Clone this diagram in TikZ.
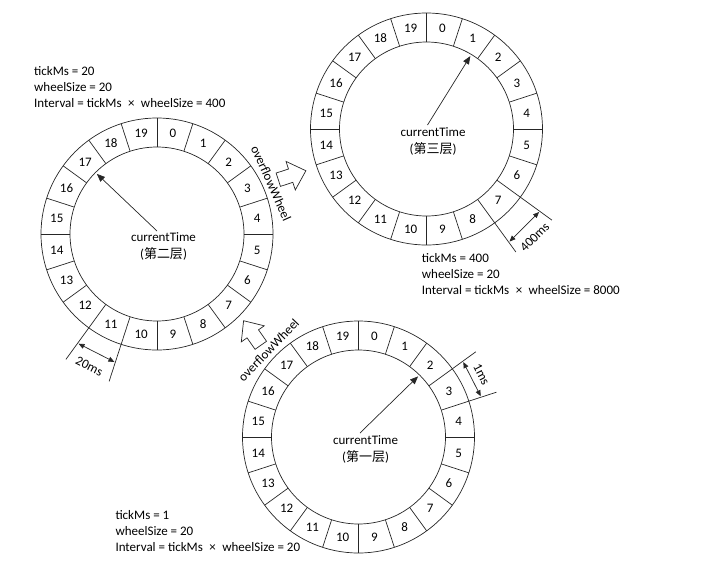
\documentclass[tikz,border=0pt]{standalone}
\usepackage{fontspec}
\setmainfont{Carlito}
\newfontfamily\cjk{Noto Sans CJK SC}
\usetikzlibrary{arrows.meta}
\newcommand{\mult}{\hspace{3.5pt}×\hspace{3.5pt}}
\tikzset{
	wheelline/.style={
			draw=black!85,
			line width=0.7pt
		},
	slotnode/.style={
			font=\fontsize{13}{15}\selectfont,
			inner sep=0pt
		},
	centernode/.style={
			align=center,
			inner sep=0pt,
			font=\fontsize{13}{17}\selectfont
		},
	infonode/.style={
			align=left,
			anchor=west,
			inner sep=0pt,
			font=\fontsize{13}{16.4}\selectfont
		},
	flownode/.style={
			inner sep=0pt,
			font=\fontsize{13}{15}\selectfont
		},
	pointer/.style={
			wheelline,
			-{Triangle[length=8pt,width=6.5pt]}
		},
	dimarrow/.style={
			wheelline,
			{Triangle[length=6pt,width=5pt]}-{Triangle[length=6pt,width=5pt]},
			shorten <=1pt,
			shorten >=1pt
		},
	blockarrow/.style={
			wheelline,
			fill=white,
			line join=miter
		}
}

\begin{document}
\begin{tikzpicture}[x=1pt, y=1pt]

  \useasboundingbox (0,0) rectangle (705,-571);

  % the three wheels
  \foreach \w/\cx/\cy in {two/157/-234, three/426.5/-129, one/358.5/-437}{
    \coordinate (\w) at (\cx,\cy);
    \draw[wheelline] (\w) circle[radius=116pt] (\w) circle[radius=87pt];
    \foreach \k in {0,...,19}{
      \draw[wheelline] ([shift={(90-18*\k:87)}]\w) -- ([shift={(90-18*\k:116)}]\w);
      \node[slotnode] (\w-\k) at ([shift={(81-18*\k:101.5)}]\w) {\k};
    }
  }

  \node[centernode] (two-label) at ([shift={(6.5,-12)}]two) {currentTime\\({\cjk 第二层})};
  \node[centernode] (three-label) at ([shift={(6.5,-12)}]three) {currentTime\\({\cjk 第三层})};
  \node[centernode] (one-label) at ([shift={(7,-12)}]one) {currentTime\\({\cjk 第一层})};

  % hands
  \coordinate (two-pivot) at ([shift={(0,3)}]two);
  \coordinate (two-hand) at ([shift={(135:85)}]two);
  \coordinate (three-pivot) at ([shift={(1,4)}]three);
  \coordinate (three-hand) at ([shift={(59:85)}]three);
  \coordinate (one-pivot) at ([shift={(1.5,4)}]one);
  \coordinate (one-hand) at ([shift={(45.5:85)}]one);
  \draw[pointer] (two-pivot) -- (two-hand);
  \draw[pointer] (three-pivot) -- (three-hand);
  \draw[pointer] (one-pivot) -- (one-hand);

  % tick width marks
  \draw[wheelline] ([shift={(-126:116)}]two) -- ([shift={(-126:155)}]two);
  \draw[wheelline] ([shift={(-108:116)}]two) -- ([shift={(-108:155)}]two);
  \coordinate (two-a) at ([shift={(-126:135)}]two);
  \coordinate (two-b) at ([shift={(-108:135)}]two);
  \draw[dimarrow] (two-a) -- (two-b);
  \node[flownode, rotate=-27] (two-tick) at ([shift={(-117:149)}]two) {20ms};

  \draw[wheelline] ([shift={(-36:116)}]three) -- ([shift={(-36:155)}]three);
  \draw[wheelline] ([shift={(-54:116)}]three) -- ([shift={(-54:152)}]three);
  \coordinate (three-a) at ([shift={(-36:140)}]three);
  \coordinate (three-b) at ([shift={(-54:140)}]three);
  \draw[dimarrow] (three-a) -- (three-b);
  \node[flownode, rotate=45] (three-tick) at ([shift={(-45:153)}]three) {400ms};

  \draw[wheelline] ([shift={(36:116)}]one) -- ([shift={(36:145)}]one);
  \draw[wheelline] ([shift={(18:116)}]one) -- ([shift={(18:145)}]one);
  \coordinate (one-a) at ([shift={(36:129)}]one);
  \coordinate (one-b) at ([shift={(18:129)}]one);
  \draw[dimarrow] (one-a) -- (one-b);
  \node[flownode, rotate=-63] (one-tick) at ([shift={(27:138)}]one) {1ms};

  % overflow arrows
  \draw[blockarrow, shift={(278.3,-179.7)}, rotate=18]
    (0,-7) -- (13,-7) -- (13,-15) -- (29,0) -- (13,15) -- (13,7) -- (0,7) -- cycle;
  \draw[blockarrow, shift={(260.8,-345.3)}, rotate=125]
    (0,-7) -- (14,-7) -- (14,-14) -- (30,0) -- (14,14) -- (14,7) -- (0,7) -- cycle;
  \node[flownode, rotate=-66] (up-flow) at ([shift={(24:125)}]two) {overflowWheel};
  \node[flownode, rotate=46] (down-flow) at ([shift={(136:125)}]one) {overflowWheel};

  % wheel parameters
  \node[infonode] (two-info) at (34,-87) {tickMs = 20\\wheelSize = 20\\Interval = tickMs \mult{} wheelSize = 400};
  \node[infonode] (three-info) at (421.7,-274) {tickMs = 400\\wheelSize = 20\\Interval = tickMs \mult{} wheelSize = 8000};
  \node[infonode] (one-info) at (115.3,-531) {tickMs = 1\\wheelSize = 20\\Interval = tickMs \mult{} wheelSize = 20};

\end{tikzpicture}
\end{document}
